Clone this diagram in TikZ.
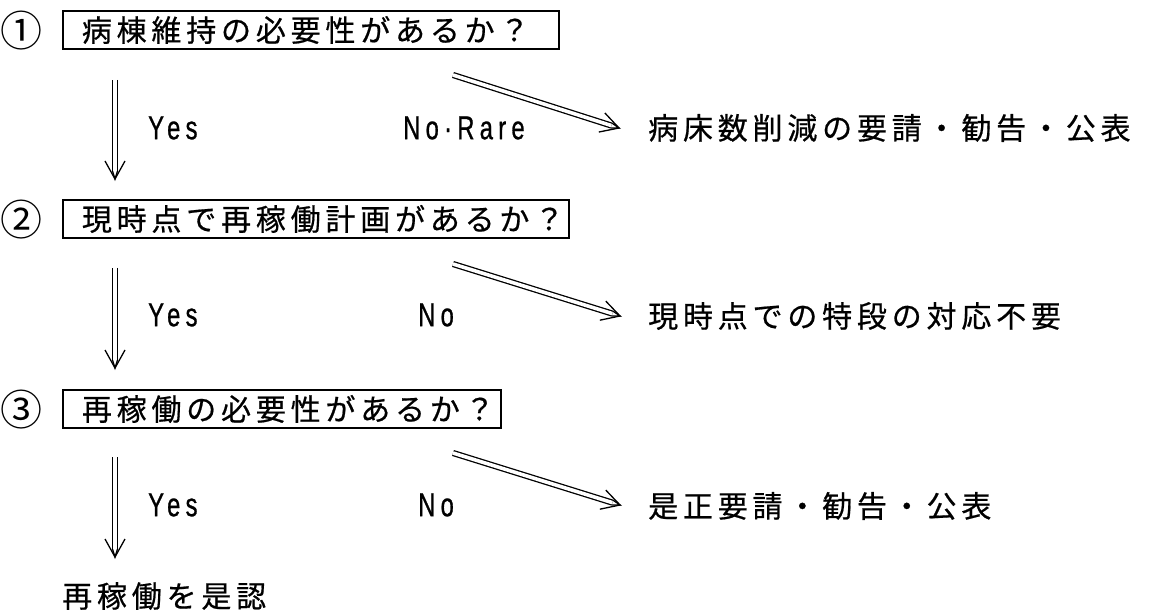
\documentclass[tikz,border=0pt]{standalone}
\usepackage{fontspec}
\setmainfont{Liberation Sans}
\newfontfamily\jp[LetterSpace=16,FakeBold=0.6]{Noto Sans CJK JP}
\newfontfamily\jpc{Noto Sans CJK JP}
\newfontfamily\lat[FakeStretch=0.72,LetterSpace=16,FakeBold=0.8]{Liberation Sans}
\usetikzlibrary{calc}
\tikzset{
  qbox/.style={draw, line width=1.8pt, anchor=west, minimum height=38pt,
    inner xsep=19pt, inner ysep=0pt, text width=#1, align=left,
    font=\jp\fontsize{30pt}{32pt}\selectfont},
  rtxt/.style={anchor=west, inner sep=0pt, font=\jp\fontsize{30pt}{32pt}\selectfont},
  lab/.style={anchor=west, inner sep=0pt, font=\lat\fontsize{33pt}{35pt}\selectfont},
  circnum/.style={inner sep=0pt, font=\jpc\fontsize{42pt}{44pt}\selectfont},
  dbl/.style={double, double distance=3.6pt, line width=1.3pt},
  tipline/.style={line width=1.3pt, line join=miter, line cap=butt}
}
\newcommand\dblarr[2]{%
  \coordinate (tmpb) at ($(#2)!18pt!(#1)$);
  \coordinate (tmpc) at ($(#2)!8pt!(#1)$);
  \draw[dbl] (#1) -- (tmpc);
  \draw[tipline] ($(tmpc)!2.5pt!90:(#2)$) -- (#2) -- ($(tmpc)!2.5pt!-90:(#2)$);
  \draw[tipline] ($(tmpb)!10pt!90:(#2)$) -- (#2) -- ($(tmpb)!10pt!-90:(#2)$);
}
\begin{document}
\begin{tikzpicture}[x=1pt,y=-1pt]
\useasboundingbox (0,0) rectangle (1151,612);
% row 1
\node[circnum] (c1) at (22,31) {①};
\node[qbox=458pt] (b1) at (62,30) {病棟維持の必要性があるか？};
\node[lab] (y1) at (148,128) {Yes};
\node[lab] (n1) at (403,128) {No·Rare};
\node[rtxt] (r1) at (648,128) {病床数削減の要請・勧告・公表};
% row 2
\node[circnum] (c2) at (22,220) {②};
\node[qbox=468pt] (b2) at (62,219) {現時点で再稼働計画があるか？};
\node[lab] (y2) at (148,315) {Yes};
\node[lab] (n2) at (418,315) {No};
\node[rtxt] (r2) at (648,316) {現時点での特段の対応不要};
% row 3
\node[circnum] (c3) at (22,410) {③};
\node[qbox=400pt] (b3) at (62,409) {再稼働の必要性があるか？};
\node[lab] (y3) at (148,505) {Yes};
\node[lab] (n3) at (418,505) {No};
\node[rtxt] (r3) at (648,506) {是正要請・勧告・公表};
% final
\node[rtxt] (fin) at (62,596) {再稼働を是認};
% arrow end points
\coordinate (v1s) at (115,80);  \coordinate (v1e) at (115,179);
\coordinate (v2s) at (115,268); \coordinate (v2e) at (115,368);
\coordinate (v3s) at (115,457); \coordinate (v3e) at (115,557);
\coordinate (d1s) at (453,75);  \coordinate (d1e) at (619,128);
\coordinate (d2s) at (453,264); \coordinate (d2e) at (620,316);
\coordinate (d3s) at (453,453); \coordinate (d3e) at (620,505);
\dblarr{v1s}{v1e}
\dblarr{v2s}{v2e}
\dblarr{v3s}{v3e}
\dblarr{d1s}{d1e}
\dblarr{d2s}{d2e}
\dblarr{d3s}{d3e}
\end{tikzpicture}
\end{document}
